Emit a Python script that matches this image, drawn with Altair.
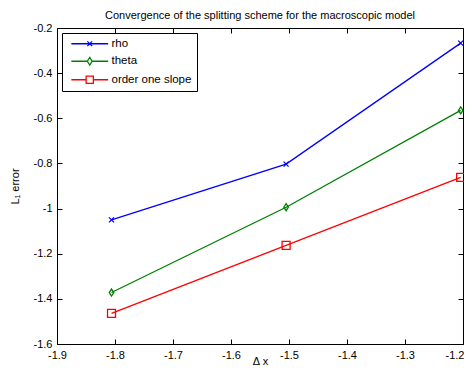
import altair as alt
import pandas as pd

# ---- data ----
dx = [-1.806, -1.505, -1.204]
rho = [-1.050, -0.803, -0.267]
theta = [-1.372, -0.994, -0.565]
slope = [-1.464, -1.163, -0.862]
series_names = ["rho", "theta", "order one slope"]
x_ticks = [-1.9, -1.8, -1.7, -1.6, -1.5, -1.4, -1.3, -1.2]
y_ticks = [-1.6, -1.4, -1.2, -1.0, -0.8, -0.6, -0.4, -0.2]

rows = []
for name, vals in zip(series_names, [rho, theta, slope]):
    for xv, yv in zip(dx, vals):
        rows.append({"dx": xv, "err": yv, "series": name})
df = pd.DataFrame(rows)

W, H = 406, 316
TICK = 5
colors = ["#0000ff", "#008000", "#ff0000"]
FONT = "Liberation Sans"

xscale = alt.Scale(domain=[-1.9, -1.2], nice=False, zero=False)
yscale = alt.Scale(domain=[-1.6, -0.2], nice=False, zero=False)
cscale = alt.Scale(domain=series_names, range=colors)

# legend symbols: line segment + marker
leg_paths = [
    "M-4.6,0H4.6M-0.6,-0.6L0.6,0.6M-0.6,0.6L0.6,-0.6",
    "M-4.6,0H-0.6M0.6,0H4.6M0,-0.95L0.6,0L0,0.95L-0.6,0Z",
    "M-4.6,0H-0.9M0.9,0H4.6M-0.9,-0.9H0.9V0.9H-0.9Z",
]
sscale = alt.Scale(domain=series_names, range=leg_paths)

lab = "'' + datum.value"

axis_x = alt.Axis(values=x_ticks, ticks=False, domain=False,
                  grid=True, gridColor="#000", gridOpacity=1, gridWidth=1,
                  gridDash=[TICK, H - 2 * TICK],
                  labelFont=FONT, labelFontSize=11, labelColor="#000",
                  labelPadding=5, labelExpr=lab,
                  labelAlign={"condition": {"test": "datum.value == -1.2", "value": "right"},
                              "value": "center"},
                  labelOffset={"condition": {"test": "datum.value == -1.2", "value": 1},
                               "value": 0},
                  title="Δ x", titleFont=FONT, titleFontSize=11,
                  titleFontWeight="normal", titleColor="#000",
                  titleX=W / 2, titleY=20, titleBaseline="alphabetic")
axis_y = alt.Axis(values=y_ticks, ticks=False, domain=False,
                  grid=True, gridColor="#000", gridOpacity=1, gridWidth=1,
                  gridDash=[TICK, W - 2 * TICK],
                  labelFont=FONT, labelFontSize=11, labelColor="#000",
                  labelPadding=5, labelExpr=lab,
                  title="L₁ error", titleFont=FONT, titleFontSize=11,
                  titleFontWeight="normal", titleColor="#000",
                  titleX=-39, titleY=H / 2, titleBaseline="alphabetic")

base = alt.Chart(df)

leg_props = dict(
    title=None, orient="none", legendX=5, legendY=5,
    strokeColor="#000", fillColor="#ffffff", padding=5,
    symbolSize=64, symbolStrokeWidth=1.3, symbolOpacity=1,
    symbolOffset=17, labelOffset=16,
    labelFont=FONT, labelFontSize=11.5, labelColor="#000",
    rowPadding=4.5,
)

# legend carrier: draws nothing (all rows filtered), only provides the legend
legend_layer = base.transform_filter("false").mark_point(
    filled=False, opacity=1, strokeWidth=1.3
).encode(
    x=alt.X("dx:Q", scale=xscale, axis=axis_x),
    y=alt.Y("err:Q", scale=yscale, axis=axis_y),
    color=alt.Color("series:N", scale=cscale, legend=alt.Legend(**leg_props)),
    shape=alt.Shape("series:N", scale=sscale, legend=alt.Legend(**leg_props)),
)

lines = base.mark_line(strokeWidth=1.3).encode(
    x=alt.X("dx:Q", scale=xscale, axis=axis_x),
    y=alt.Y("err:Q", scale=yscale, axis=axis_y),
    color=alt.Color("series:N", scale=cscale, legend=None),
)

pts_rho = base.transform_filter(alt.datum.series == "rho").mark_point(
    shape="M-1,-1L1,1M-1,1L1,-1", size=25, filled=False, strokeWidth=1.3,
    color=colors[0], opacity=1,
).encode(x=alt.X("dx:Q", scale=xscale, axis=axis_x),
         y=alt.Y("err:Q", scale=yscale, axis=axis_y))

pts_theta = base.transform_filter(alt.datum.series == "theta").mark_point(
    shape="M0,-1L0.65,0L0,1L-0.65,0Z", size=49, filled=False, strokeWidth=1.3,
    color=colors[1], opacity=1,
).encode(x=alt.X("dx:Q", scale=xscale, axis=axis_x),
         y=alt.Y("err:Q", scale=yscale, axis=axis_y))

pts_slope = base.transform_filter(alt.datum.series == "order one slope").mark_point(
    shape="square", size=64, filled=False, strokeWidth=1.3,
    color=colors[2], opacity=1,
).encode(x=alt.X("dx:Q", scale=xscale, axis=axis_x),
         y=alt.Y("err:Q", scale=yscale, axis=axis_y))

chart = alt.layer(legend_layer, lines, pts_rho, pts_theta, pts_slope).properties(
    width=W, height=H,
    autosize=alt.AutoSizeParams(type="none"),
    padding={"left": 49, "top": 20, "right": 1, "bottom": 22},
    title=alt.TitleParams("Convergence of the splitting scheme for the macroscopic model",
                          font=FONT, fontSize=11, fontWeight="normal", color="#000",
                          anchor="middle", frame="group", offset=1),
).configure_view(stroke="#000", strokeWidth=1)

chart.save("out.html", embed_options={"renderer": "svg", "actions": False})
